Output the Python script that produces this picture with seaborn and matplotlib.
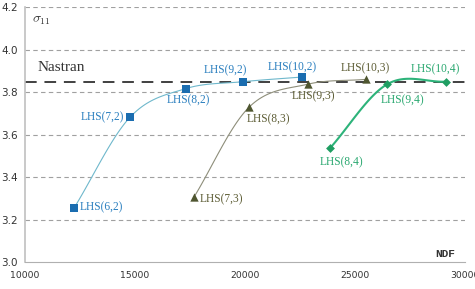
import numpy as np
import pandas as pd
import matplotlib
matplotlib.use("Agg")
import matplotlib.pyplot as plt
import seaborn as sns

# values
ndf_2 = [12240, 14770, 17300, 19920, 22600]
sig_2 = [3.257, 3.682, 3.817, 3.850, 3.872]
lab_2 = ["LHS(6,2)", "LHS(7,2)", "LHS(8,2)", "LHS(9,2)", "LHS(10,2)"]

ndf_3 = [17680, 20180, 22850, 25510]
sig_3 = [3.306, 3.729, 3.838, 3.861]
lab_3 = ["LHS(7,3)", "LHS(8,3)", "LHS(9,3)", "LHS(10,3)"]

ndf_4 = [23860, 26470, 29140]
sig_4 = [3.536, 3.838, 3.850]
lab_4 = ["LHS(8,4)", "LHS(9,4)", "LHS(10,4)"]

nastran = 3.85
x_ticks = [10000, 15000, 20000, 25000, 30000]
y_ticks = [3.0, 3.2, 3.4, 3.6, 3.8, 4.0, 4.2]


def smooth(xs, ys, n=30):
    '''
    Catmull-Rom curve through the points, like a smoothed spreadsheet line
    '''
    p = np.column_stack([xs, ys]).astype(float)
    p = np.vstack([2 * p[0] - p[1], p, 2 * p[-1] - p[-2]])
    out = []
    t = np.linspace(0, 1, n)[:, None]
    for i in range(1, len(p) - 2):
        p0, p1, p2, p3 = p[i - 1], p[i], p[i + 1], p[i + 2]
        m1 = (p2 - p0) / 2
        m2 = (p3 - p1) / 2
        h00 = 2 * t**3 - 3 * t**2 + 1
        h10 = t**3 - 2 * t**2 + t
        h01 = -2 * t**3 + 3 * t**2
        h11 = t**3 - t**2
        out.append(h00 * p1 + h10 * m1 + h01 * p2 + h11 * m2)
    c = np.vstack(out)
    return pd.DataFrame({"ndf": c[:, 0], "sig": c[:, 1]})


sns.set_style("white")
fig = plt.figure(figsize=(4.75, 2.89), dpi=100)
ax = fig.add_axes([0.0526, 0.0924, 0.926, 0.8823])
plt.rcParams["mathtext.fontset"] = "cm"

for yv in y_ticks[1:]:
    ax.axhline(yv, color="#a0a0a0", lw=0.8, ls=(0, (4, 3)), zorder=0)
ax.axhline(nastran, color="#404040", lw=1.4, ls=(0, (6, 4)), zorder=1)

series = [
    (ndf_2, sig_2, lab_2, "#1a6db0", "#2a7fbf", "#6fb8cc", 0.8, "s", 5.5),
    (ndf_3, sig_3, lab_3, "#4f5630", "#5d5d35", "#8e8e7a", 0.8, "^", 6),
    (ndf_4, sig_4, lab_4, "#1f9e62", "#2aa870", "#2db37a", 1.5, "D", 4.5),
]
for xs, ys, labs, mc, tc, lc, lw, mk, ms in series:
    sns.lineplot(data=smooth(xs, ys), x="ndf", y="sig", sort=False,
                 color=lc, lw=lw, ax=ax, zorder=2)
    sns.scatterplot(x=xs, y=ys, marker=mk, color=mc, s=ms**2,
                    edgecolor=mc, linewidth=0, ax=ax, zorder=3)

# label offsets in pixels: (dx, dy, ha)
offsets = {
    "LHS(6,2)": (5, 0, "left"), "LHS(7,2)": (-6, 0, "right"),
    "LHS(8,2)": (3, -12, "center"), "LHS(9,2)": (-18, 11, "center"),
    "LHS(10,2)": (-10, 10, "center"), "LHS(7,3)": (6, -2, "left"),
    "LHS(8,3)": (-2, -12, "left"), "LHS(9,3)": (6, -12, "center"),
    "LHS(10,3)": (-1, 11, "center"), "LHS(8,4)": (12, -14, "center"),
    "LHS(9,4)": (15, -16, "center"), "LHS(10,4)": (-11, 12, "center"),
}
for xs, ys, labs, mc, tc, lc, lw, mk, ms in series:
    for x, y, lab in zip(xs, ys, labs):
        dx, dy, ha = offsets[lab]
        ax.annotate(lab, (x, y), xytext=(dx, dy), textcoords="offset pixels",
                    ha=ha, va="center", fontsize=8.3, color=tc,
                    family="Liberation Serif")

ax.text(10590, 3.916, "Nastran", fontsize=11, family="Liberation Serif",
        color="#333333", va="center")
ax.text(10320, 4.14, r"$\sigma_{11}$", fontsize=10, color="#333333",
        va="center")
ax.text(29090, 3.039, "NDF", fontsize=8, family="Liberation Mono",
        weight="bold", color="#333333", ha="center", va="center")

ax.set_xlim(10000, 30000)
ax.set_ylim(3.0, 4.2)
ax.set_xticks(x_ticks)
ax.set_yticks(y_ticks)
ax.set_yticklabels([f"{v:.1f}" for v in y_ticks])
ax.set_xlabel("")
ax.set_ylabel("")
ax.tick_params(labelsize=6.7, colors="#333333", length=3, width=0.8)
ax.tick_params(axis="y", labelsize=7.5, pad=2)
ax.tick_params(axis="both", color="#b0b0b0")
for side in ["top", "right"]:
    ax.spines[side].set_visible(False)
ax.spines["left"].set_color("#c0c0c0")
ax.spines["left"].set_linewidth(1.2)
ax.spines["bottom"].set_color("#b0b0b0")
ax.spines["bottom"].set_linewidth(0.8)

fig.savefig("out.png", dpi=100)
